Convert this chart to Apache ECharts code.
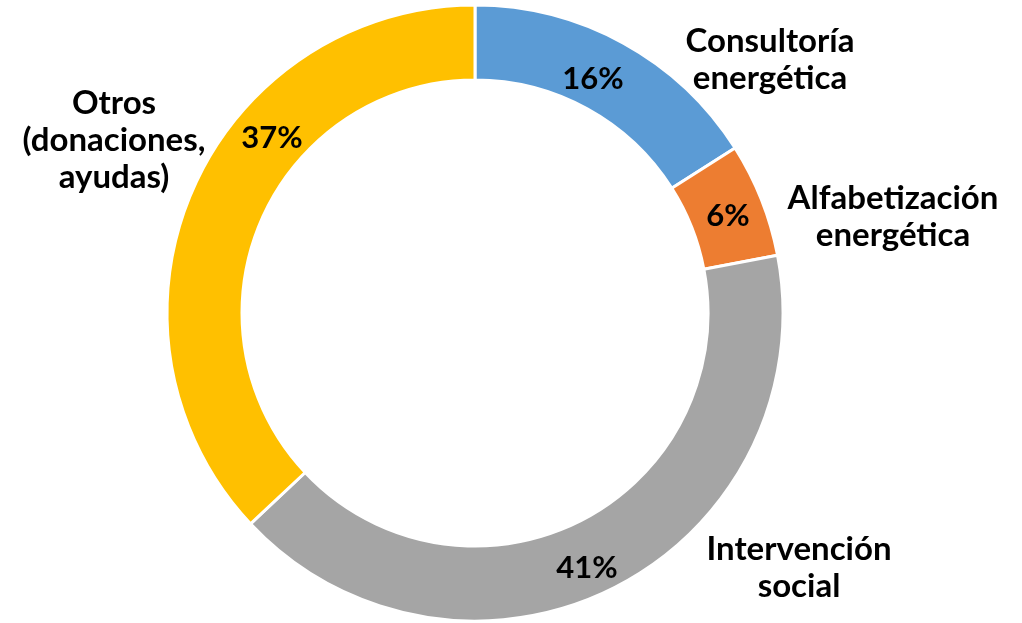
<!DOCTYPE html>
<html>
<head>
<meta charset="utf-8">
<script src="https://cdn.jsdelivr.net/npm/echarts@6/dist/echarts.min.js"></script>
<style>
  html, body { margin: 0; padding: 0; background: #fff; }
  #chart { width: 1022px; height: 623px; }
</style>
</head>
<body>
<div id="chart"></div>
<script>
// datos
var categorias = ['Consultoría\nenergética', 'Alfabetización\nenergética', 'Intervención\nsocial', 'Otros\n(donaciones,\nayudas)'];
var porcentajes = [16, 6, 41, 37];
var colores = ['#5B9BD5', '#ED7D31', '#A5A5A5', '#FFC000'];

// posiciones de las etiquetas
var posEtiquetas = [[770, 60], [893, 217], [799, 568], [114, 140]];
var posPorcentajes = [[593, 79], [728, 216], [587, 568], [272, 138]];

var chart = echarts.init(document.getElementById('chart'));

var datos = categorias.map(function (c, i) {
  return { name: c, value: porcentajes[i], itemStyle: { color: colores[i] } };
});

var option = {
  backgroundColor: '#ffffff',
  animation: false,
  series: [
    {
      type: 'pie',
      center: [475, 313],
      radius: [233, 308],
      startAngle: 90,
      clockwise: true,
      silent: true,
      itemStyle: { borderColor: '#ffffff', borderWidth: 3 },
      label: {
        show: true,
        position: 'inside',
        formatter: '{c}%',
        color: '#000',
        fontFamily: 'Lato',
        fontWeight: 'bold',
        fontSize: 31
      },
      labelLine: { show: false },
      labelLayout: function (params) {
        var p = posPorcentajes[params.dataIndex];
        return { x: p[0], y: p[1], align: 'center', verticalAlign: 'middle' };
      },
      data: datos
    },
    {
      // solo etiquetas de categoría
      type: 'pie',
      center: [475, 313],
      radius: [233, 308],
      startAngle: 90,
      silent: true,
      itemStyle: { color: 'transparent', borderWidth: 0 },
      label: {
        show: true,
        position: 'outside',
        formatter: '{b}',
        color: '#000',
        fontFamily: 'Lato',
        fontWeight: 'bold',
        fontSize: 33,
        lineHeight: 37,
        align: 'center',
        overflow: 'none',
        width: 280
      },
      labelLine: { show: false },
      labelLayout: function (params) {
        var p = posEtiquetas[params.dataIndex];
        return { x: p[0], y: p[1], align: 'center', verticalAlign: 'middle' };
      },
      data: categorias.map(function (c, i) {
        return { name: c, value: porcentajes[i] };
      })
    }
  ]
};

chart.setOption(option);
</script>
</body>
</html>
